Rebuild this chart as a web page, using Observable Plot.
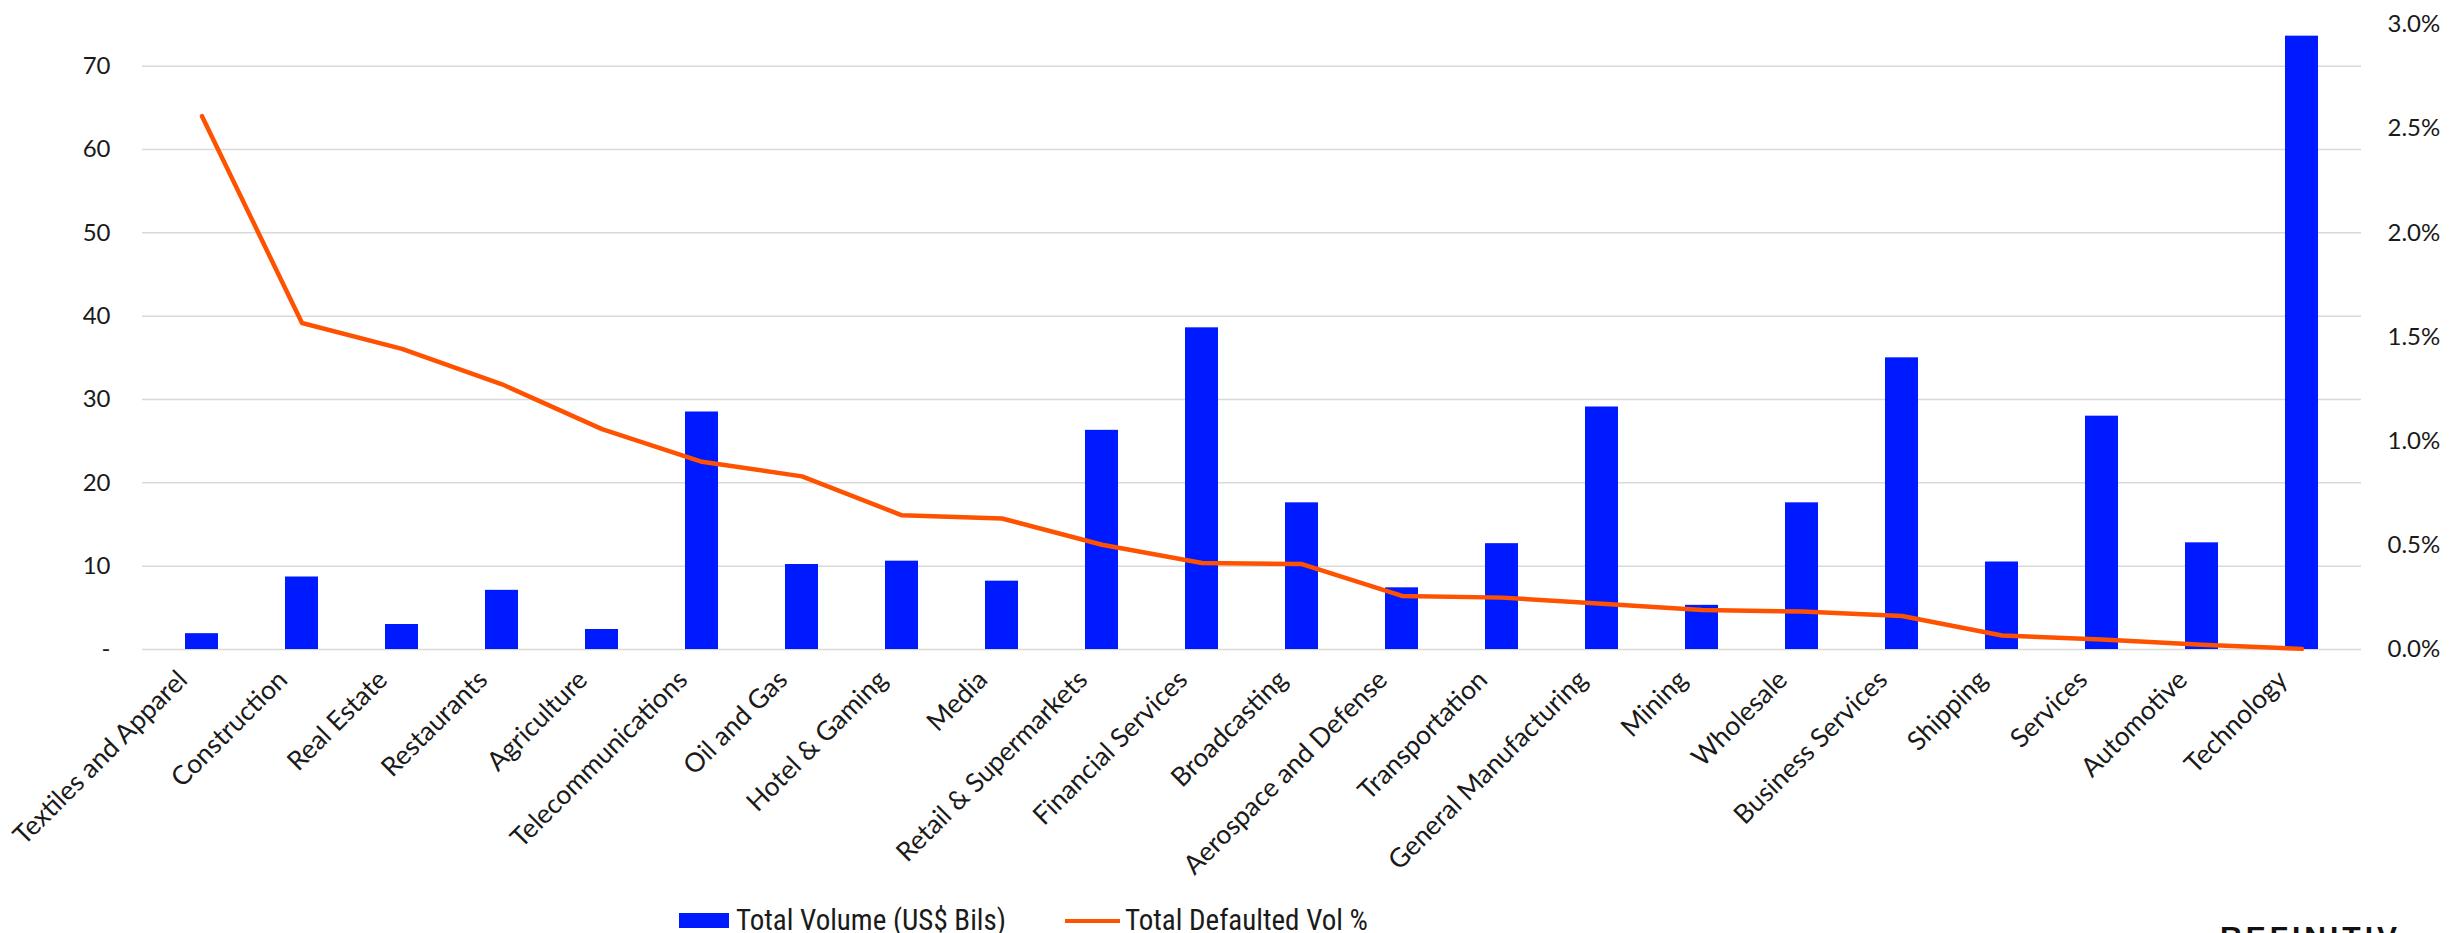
<!DOCTYPE html>
<html>
<head>
<meta charset="utf-8">
<script src="https://cdn.jsdelivr.net/npm/d3@7"></script>
<script src="https://cdn.jsdelivr.net/npm/@observablehq/plot@0.6"></script>
<style>
  html, body { margin: 0; padding: 0; background: #fff; overflow: hidden; }
  body { width: 2451px; height: 933px; position: relative; }
  .leg { position: absolute; font-family: "Liberation Sans Narrow", "Arial Narrow", "Roboto Condensed", sans-serif; font-stretch: condensed; font-size: 29px; line-height: 30px; color: #1a1a1a; white-space: nowrap; }
  .sw-bar { position: absolute; left: 679px; top: 913px; width: 50px; height: 15px; background: #001AFF; }
  .sw-line { position: absolute; left: 1065px; top: 919px; width: 55px; height: 4px; background: #FF5200; }
  #logo { position: absolute; left: 2220px; top: 922px; font-family: "Liberation Sans", Arial, sans-serif; font-weight: bold; font-size: 30px; line-height: 30px; letter-spacing: 4px; color: #111; white-space: nowrap; }
  #logo sup { font-size: 8px; letter-spacing: 0; vertical-align: top; }
</style>
</head>
<body>
<div id="chart"></div>
<div class="sw-bar"></div>
<div class="leg" style="left:736px; top:905px;">Total Volume (US$ Bils)</div>
<div class="sw-line"></div>
<div class="leg" style="left:1125px; top:905px;">Total Defaulted Vol %</div>
<div id="logo">REFINITIV<sup>™</sup></div>
<script>
const categories = ["Textiles and Apparel", "Construction", "Real Estate", "Restaurants", "Agriculture",
  "Telecommunications", "Oil and Gas", "Hotel & Gaming", "Media", "Retail & Supermarkets",
  "Financial Services", "Broadcasting", "Aerospace and Defense", "Transportation",
  "General Manufacturing", "Mining", "Wholesale", "Business Services", "Shipping", "Services",
  "Automotive", "Technology"];
const volume = [1.9, 8.7, 3.0, 7.1, 2.4, 28.5, 10.2, 10.6, 8.2, 26.3, 38.6, 17.6, 7.4, 12.7,
  29.1, 5.3, 17.6, 35.0, 10.5, 28.0, 12.8, 73.6];
const defaultedPct = [2.56, 1.567, 1.443, 1.273, 1.058, 0.901, 0.831, 0.644, 0.629, 0.503, 0.415,
  0.410, 0.257, 0.249, 0.220, 0.190, 0.182, 0.161, 0.067, 0.048, 0.023, 0.003];
const leftTicks = [0, 10, 20, 30, 40, 50, 60, 70];
const rightTicks = [0, 0.5, 1.0, 1.5, 2.0, 2.5, 3.0];
const leftMax = 75, rightMax = 3;
const k = leftMax / rightMax;

const data = categories.map((c, i) => ({category: c, volume: volume[i], pct: defaultedPct[i]}));

const chart = Plot.plot({
  width: 2451,
  height: 880,
  marginTop: 24,
  marginLeft: 142,
  marginRight: 90,
  marginBottom: 231,
  style: {fontFamily: "Lato, 'Open Sans', sans-serif", fontSize: "24px", color: "#1a1a1a", background: "#fff"},
  x: {domain: categories, paddingInner: 0.67, paddingOuter: 0.335, label: null},
  y: {domain: [0, leftMax], label: null},
  marks: [
    Plot.ruleY(leftTicks, {stroke: "#d9d9d9", strokeWidth: 1.5}),
    Plot.barY(data, {x: "category", y: "volume", fill: "#001AFF"}),
    Plot.line(data, {x: "category", y: d => d.pct * k, stroke: "#FF5200", strokeWidth: 4.5, strokeLinejoin: "round"}),
    Plot.axisY(leftTicks, {anchor: "left", tickSize: 0, tickPadding: 32, label: null,
      tickFormat: d => d === 0 ? "-" : String(d)}),
    Plot.axisY(rightTicks.map(t => t * k), {anchor: "right", tickSize: 0, tickPadding: 26, label: null,
      tickFormat: d => (d / k).toFixed(1) + "%"}),
    Plot.axisX({tickRotate: -45, tickSize: 0, tickPadding: 14, label: null, fontSize: 26.5, dx: -19, dy: 12})
  ]
});
document.getElementById("chart").appendChild(chart);
</script>
</body>
</html>
